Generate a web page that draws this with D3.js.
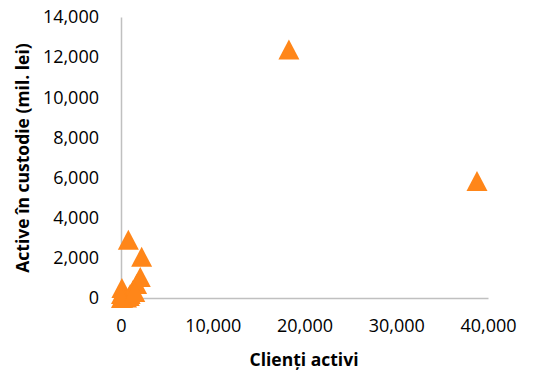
<!DOCTYPE html>
<html>
<head>
<meta charset="utf-8">
<script src="https://cdn.jsdelivr.net/npm/d3@7"></script>
<style>
  body { margin: 0; background: #fff; }
  text { font-family: "Open Sans", sans-serif; fill: #000; }
</style>
</head>
<body>
<div id="chart"></div>
<script>
// date (clienti activi, active in custodie)
var clienti = [800, 2250, 2100, 1700, 1300, 1000, 100, 50, 300, 600, 900, 200, 50, 1500, 18300, 38800];
var active  = [2900, 2050, 1050, 700, 400, 200, 500, 200, 50, 30, 100, 10, 0, 300, 12380, 5830];
var xTicks = [0, 10000, 20000, 30000, 40000];
var yTicks = [0, 2000, 4000, 6000, 8000, 10000, 12000, 14000];

var W = 534, H = 371;
var svg = d3.select("#chart")
    .append("svg")
    .attr("width", W)
    .attr("height", H);

var x = d3.scaleLinear().domain([0, 40000]).range([121, 488]);
var y = d3.scaleLinear().domain([0, 14000]).range([298, 17]);
var fmt = d3.format(",");

// axa y
var yAxis = d3.axisLeft(y).tickValues(yTicks).tickSize(0).tickPadding(22).tickFormat(fmt);
var gy = svg.append("g").attr("transform", "translate(121,0)").call(yAxis);
gy.select(".domain").attr("stroke", "#c0c0c0").attr("stroke-width", 1.5);
gy.selectAll("text").attr("font-size", "18px").attr("font-family", "Open Sans, sans-serif").attr("fill", "#000");

// axa x
var xAxis = d3.axisBottom(x).tickValues(xTicks).tickSize(0).tickPadding(21).tickFormat(fmt);
var gx = svg.append("g").attr("transform", "translate(0,298)").call(xAxis);
gx.select(".domain").attr("stroke", "#c0c0c0").attr("stroke-width", 1.5);
gx.selectAll("text").attr("font-size", "18px").attr("font-family", "Open Sans, sans-serif").attr("fill", "#000");

// titluri
svg.append("text")
    .attr("x", 304)
    .attr("y", 366)
    .attr("text-anchor", "middle")
    .attr("font-size", "17.5px")
    .attr("font-weight", "bold")
    .text("Clienți activi");

svg.append("text")
    .attr("transform", "translate(29,158) rotate(-90)")
    .attr("text-anchor", "middle")
    .attr("font-size", "17.5px")
    .attr("font-weight", "bold")
    .text("Active în custodie (mil. lei)");

// puncte (triunghiuri)
var pts = clienti.map(function (c, i) { return { cx: c, cy: active[i] }; });
svg.append("g").selectAll("path")
    .data(pts)
    .enter()
    .append("path")
    .attr("d", "M0,-10L10.5,10L-10.5,10Z")
    .attr("transform", function (d) { return "translate(" + x(d.cx) + "," + y(d.cy) + ")"; })
    .attr("fill", "#ff8619");
</script>
</body>
</html>
